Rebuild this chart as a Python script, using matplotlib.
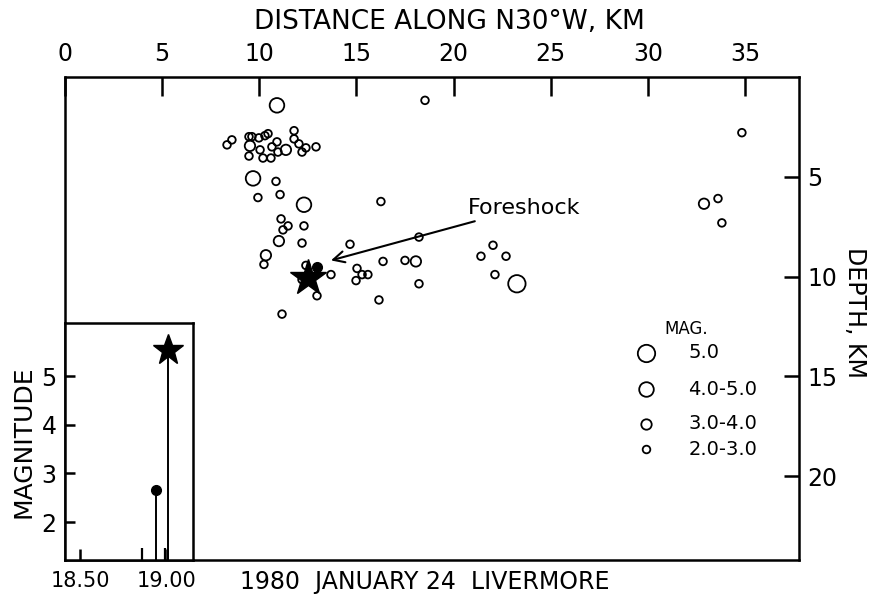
import matplotlib
matplotlib.use('Agg')
import matplotlib.pyplot as plt
import numpy as np

# aftershock / event locations (distance along N30W km, depth km, magnitude class)
dist = [10.91, 18.53, 34.84, 8.34, 8.59, 9.47, 9.62, 9.52, 9.47, 9.98,
        10.04, 10.19, 10.29, 10.45, 10.60, 10.65, 10.91, 10.96, 11.37, 11.79,
        11.79, 12.04, 12.20, 12.40, 12.92, 9.68, 10.86, 9.93, 11.07, 12.30,
        16.26, 11.12, 11.22, 11.48, 12.30, 11.01, 12.20, 14.67, 18.22, 10.34,
        10.24, 12.40, 12.20, 12.97, 13.69, 15.03, 14.98, 15.29, 15.59, 16.37,
        17.50, 18.06, 18.22, 16.16, 11.17, 21.41, 22.03, 22.70, 22.13, 23.26,
        32.89, 33.61, 33.81]
depth = [1.42, 1.17, 2.79, 3.40, 3.15, 2.99, 2.99, 3.45, 3.96, 3.05,
         3.65, 4.06, 2.94, 2.84, 4.06, 3.50, 3.25, 3.76, 3.65, 2.69,
         3.10, 3.35, 3.76, 3.55, 3.50, 5.08, 5.23, 6.04, 5.89, 6.40,
         6.24, 7.11, 7.66, 7.46, 7.46, 8.22, 8.32, 8.38, 8.02, 8.93,
         9.39, 9.44, 10.15, 10.96, 9.90, 9.59, 10.20, 9.90, 9.90, 9.24,
         9.19, 9.24, 10.36, 11.17, 11.88, 8.98, 8.43, 8.98, 9.90, 10.36,
         6.35, 6.09, 7.31]
mag = [4.5, 2.5, 2.5, 2.5, 2.5, 2.5, 2.5, 3.5, 2.5, 2.5,
       2.5, 2.5, 2.5, 2.5, 2.5, 2.5, 2.5, 2.5, 3.5, 2.5,
       2.5, 2.5, 2.5, 2.5, 2.5, 4.5, 2.5, 2.5, 2.5, 4.5,
       2.5, 2.5, 2.5, 2.5, 2.5, 3.5, 2.5, 2.5, 2.5, 3.5,
       2.5, 2.5, 2.5, 2.5, 2.5, 2.5, 2.5, 2.5, 2.5, 2.5,
       2.5, 3.5, 2.5, 2.5, 2.5, 2.5, 2.5, 2.5, 2.5, 5.0,
       3.5, 2.5, 2.5]

main_shock = (12.51, 10.05)
foreshock = (12.97, 9.54)

legend_mags = [5.0, 4.5, 3.5, 2.5]
legend_labels = ['5.0', '4.0-5.0', '3.0-4.0', '2.0-3.0']

# magnitude vs time inset
t_small = [18.856, 18.99]
m_small = [1.47, 1.47]
t_fore, m_fore = 18.937, 2.65
t_main, m_main = 19.006, 5.53

msize = {2.5: 5.5, 3.5: 7.5, 4.5: 10.5, 5.0: 12.5}
LW = 1.8
FS = 17

fig = plt.figure(figsize=(8.77, 6.04), dpi=100)
ax = fig.add_axes([65/877, 1-560/604, 734/877, 483/604])

sizes = [msize[m]**2 for m in mag]
ax.scatter(dist, depth, s=sizes, facecolors='none', edgecolors='black', linewidths=1.3, zorder=3)
ax.plot(*foreshock, 'o', color='black', markersize=7, zorder=4)
ax.plot(*main_shock, '*', color='black', markersize=27, zorder=5)

ax.annotate('Foreshock', xy=(13.69, 9.19), xytext=(20.75, 6.55),
            fontsize=16, ha='left', va='center',
            arrowprops=dict(arrowstyle='->', color='black', lw=1.5,
                            mutation_scale=20, shrinkA=2, shrinkB=0))

ax.set_xlim(0, 37.78)
ax.set_ylim(24.2, 0)
ax.xaxis.tick_top()
ax.yaxis.tick_right()
ax.set_xticks(range(0, 36, 5))
ax.set_yticks([5, 10, 15, 20])
ax.tick_params(axis='x', direction='in', length=14, width=LW, labelsize=FS, pad=8)
ax.tick_params(axis='y', direction='in', length=11, width=LW, labelsize=FS, pad=6)
for sp in ax.spines.values():
    sp.set_linewidth(LW)

# legend drawn by hand
ax.text(0.816, 0.478, 'MAG.', transform=ax.transAxes, fontsize=12, ha='left', va='center')
leg_y = [0.4286, 0.354, 0.2816, 0.2298]
for m, lab, y in zip(legend_mags, legend_labels, leg_y):
    ax.plot(0.7916, y, 'o', transform=ax.transAxes, markersize=msize[m],
            markerfacecolor='none', markeredgecolor='black', markeredgewidth=1.3)
    ax.text(0.849, y, lab, transform=ax.transAxes, fontsize=14, ha='left', va='center')

fig.text(449/877, 1-22/604, 'DISTANCE ALONG N30°W, KM', fontsize=19, ha='center', va='center')
fig.text(855/877, 1-312/604, 'DEPTH, KM', fontsize=FS, ha='center', va='center', rotation=270)
fig.text(425/877, 1-582/604, '1980  JANUARY 24  LIVERMORE', fontsize=FS, ha='center', va='center')

# inset
axi = fig.add_axes([65/877, 1-560/604, 128/877, 237/604], zorder=5)
axi.set_facecolor('white')
axi.vlines(t_small, 1.22, m_small, color='black', lw=1.6)
axi.vlines([t_fore, t_main], 1.22, [m_fore, m_main], color='black', lw=1.4)
axi.plot(t_fore, m_fore, 'o', color='black', markersize=7)
axi.plot(t_main, m_main, '*', color='black', markersize=23)
axi.set_xlim(18.414, 19.149)
axi.set_ylim(1.22, 6.09)
axi.set_xticks([18.5, 19.0])
axi.set_xticklabels(['18.50', '19.00'])
axi.set_yticks([2, 3, 4, 5])
axi.tick_params(axis='x', direction='in', length=8, width=LW, labelsize=15, pad=8)
axi.tick_params(axis='y', direction='in', length=7, width=LW, labelsize=FS, pad=6)
axi.set_ylabel('MAGNITUDE', fontsize=18, labelpad=4)
for sp in axi.spines.values():
    sp.set_linewidth(LW)

fig.savefig('out.png', dpi=100)
